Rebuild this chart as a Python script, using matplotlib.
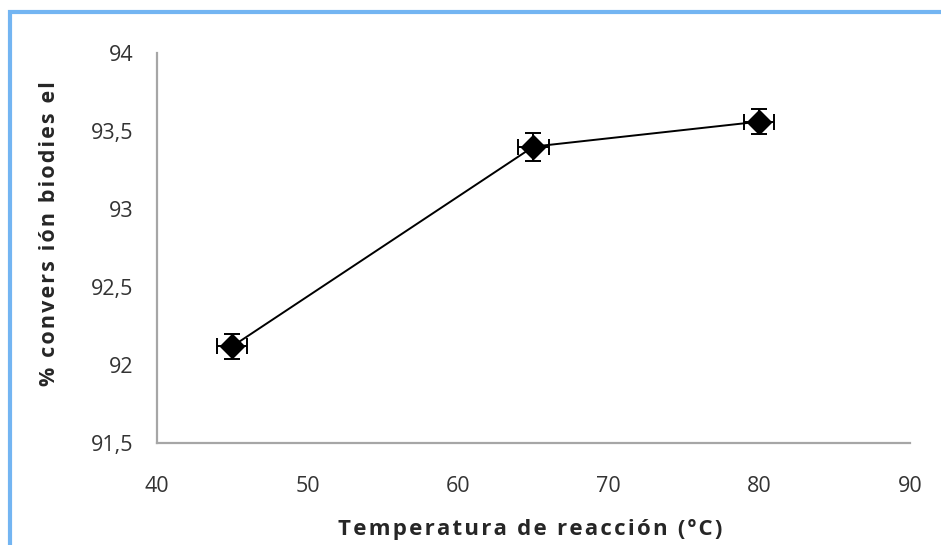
import matplotlib.pyplot as plt
from matplotlib.patches import Rectangle
from matplotlib.ticker import FuncFormatter

# reaction temperature vs biodiesel conversion
temperatura = [45, 65, 80]
conversion = [92.12, 93.40, 93.56]
err_temp = [1, 1, 1]
err_conv = [0.08, 0.09, 0.08]

x_ticks = [40, 50, 60, 70, 80, 90]
y_ticks = [91.5, 92, 92.5, 93, 93.5, 94]

fonts = ["Open Sans", "DejaVu Sans"]

def spaced(s):
    # wide letter spacing like the source document
    return "\u200a".join(s)

fig = plt.figure(figsize=(9.41, 5.45), dpi=100)
ax = fig.add_axes([0.1668, 0.187, 0.967 - 0.1668, 0.9028 - 0.187])

ax.errorbar(temperatura, conversion, xerr=err_temp, yerr=err_conv,
            fmt="-", color="black", lw=1.4, elinewidth=1.4,
            capsize=6, capthick=1.4, marker="D", markersize=12,
            markerfacecolor="black", markeredgecolor="black")

ax.set_xlim(40, 90)
ax.set_ylim(91.5, 94)
ax.set_xticks(x_ticks)
ax.set_yticks(y_ticks)
# decimal comma on the y axis
ax.yaxis.set_major_formatter(FuncFormatter(lambda v, p: f"{v:g}".replace(".", ",")))

for side in ["top", "right"]:
    ax.spines[side].set_visible(False)
for side in ["left", "bottom"]:
    ax.spines[side].set_color("#a6a6a6")
    ax.spines[side].set_linewidth(1.6)

ax.tick_params(length=0, labelsize=15.5, labelcolor="#333333")
ax.tick_params(axis="y", pad=17)
ax.tick_params(axis="x", pad=24)
for lbl in ax.get_xticklabels() + ax.get_yticklabels():
    lbl.set_family(fonts)

fig.text(0.053, 0.572, spaced("% convers ión biodies el"), rotation=90,
         ha="center", va="center", fontsize=15.5, fontweight="bold",
         family=fonts, color="#262626")
fig.text(0.563, 0.028, spaced("Temperatura de reacción (ºC)"),
         ha="center", va="center", fontsize=16, fontweight="bold",
         family=fonts, color="#262626")

# blue frame around the chart area
fig.patches.append(Rectangle((10 / 941, -0.1), 1.2, 1.1 - 12 / 545,
                             transform=fig.transFigure, fill=False,
                             edgecolor="#73b5f2", linewidth=3))

plt.savefig("out.png", dpi=100)
